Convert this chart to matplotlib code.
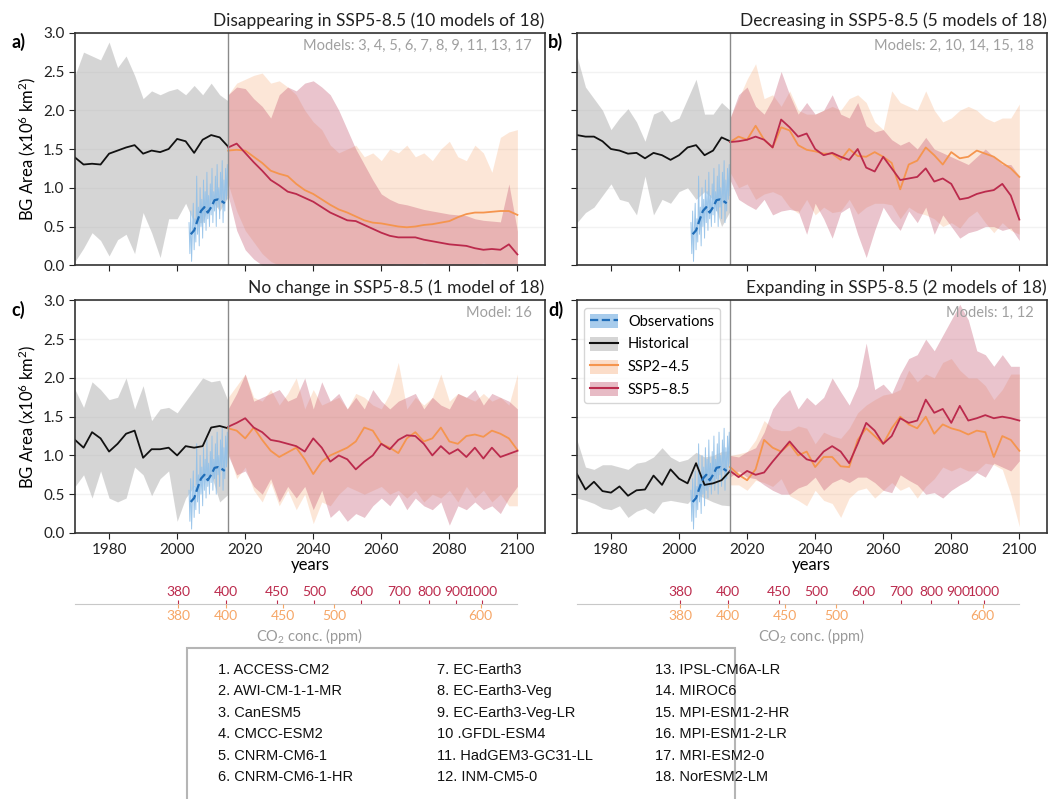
import numpy as np
import matplotlib
matplotlib.use('Agg')
import matplotlib.pyplot as plt
from matplotlib.lines import Line2D
from matplotlib.patches import Patch, Rectangle

plt.rcParams['font.family'] = ['Lato', 'DejaVu Sans']
plt.rcParams['mathtext.default'] = 'regular'

# --- data ---
hist_years = np.arange(1970, 2015.1, 2.5)
fut_years = np.arange(2015, 2100.1, 2.5)

obs_years = np.arange(2004, 2015)
obs_mean = [0.40, 0.45, 0.58, 0.70, 0.75, 0.68, 0.75, 0.84, 0.85, 0.83, 0.80]
obs_raw_years = np.arange(2003.5, 2015.01, 0.25)
obs_raw = [0.55, 0.15, 0.7, 0.05, 0.45, 0.8, 0.2, 0.6, 0.3, 1.15, 0.4, 0.75, 0.25, 1.0, 0.5, 0.85,
           0.35, 1.1, 0.55, 0.95, 0.45, 1.2, 0.6, 0.9, 0.5, 1.05, 0.65, 1.25, 0.55, 0.95, 0.7, 1.15,
           0.5, 1.3, 0.75, 1.0, 0.6, 1.2, 0.8, 1.35, 0.55, 1.1, 0.7, 1.25, 0.85, 1.3, 0.9]

# panel a - disappearing
a_hist_mean = [1.39, 1.30, 1.31, 1.30, 1.44, 1.48, 1.52, 1.55, 1.44, 1.48, 1.46, 1.50, 1.63, 1.60, 1.45, 1.62, 1.68, 1.65, 1.53]
a_hist_hi = [2.45, 2.75, 2.7, 2.65, 2.88, 2.55, 2.7, 2.45, 2.15, 2.25, 2.2, 2.25, 2.28, 2.2, 2.32, 2.2, 2.35, 2.2, 2.12]
a_hist_lo = [0.05, 0.22, 0.42, 0.32, 0.12, 0.33, 0.4, 0.15, 0.68, 0.42, 0.1, 0.6, 0.6, 0.8, 0.55, 0.55, 0.85, 0.7, 0.88]
a_245_mean = [1.48, 1.49, 1.48, 1.40, 1.32, 1.22, 1.18, 1.15, 1.05, 0.97, 0.92, 0.85, 0.78, 0.72, 0.68, 0.63, 0.58, 0.55,
              0.54, 0.52, 0.50, 0.49, 0.50, 0.52, 0.53, 0.55, 0.57, 0.62, 0.66, 0.68, 0.68, 0.69, 0.70, 0.70, 0.65]
a_245_hi = [2.2, 2.35, 2.4, 2.45, 2.48, 2.35, 2.38, 2.3, 2.2, 2.0, 1.85, 1.75, 1.55, 1.45, 1.5, 1.55, 1.4, 1.45,
            1.35, 1.5, 1.45, 1.55, 1.4, 1.45, 1.35, 1.5, 1.6, 1.4, 1.35, 1.55, 1.45, 1.2, 1.65, 1.72, 1.75]
a_245_lo = [1.05, 0.7, 0.45, 0.3, 0.15, 0.05, 0.0, 0.0, 0.0, 0.0, 0.0, 0.0, 0.0, 0.0, 0.0, 0.0, 0.0, 0.0,
            0.0, 0.0, 0.02, 0.0, 0.0, 0.03, 0.0, 0.0, 0.02, 0.0, 0.0, 0.0, 0.03, 0.0, 0.0, 0.0, 0.0]
a_585_mean = [1.52, 1.57, 1.45, 1.33, 1.22, 1.10, 1.03, 0.95, 0.92, 0.87, 0.82, 0.75, 0.68, 0.63, 0.58, 0.57, 0.52, 0.47,
              0.42, 0.38, 0.36, 0.36, 0.36, 0.33, 0.31, 0.29, 0.27, 0.26, 0.25, 0.22, 0.20, 0.21, 0.20, 0.27, 0.14]
a_585_hi = [2.2, 2.3, 2.28, 2.15, 2.05, 1.9, 2.2, 2.3, 2.25, 2.35, 2.38, 2.3, 2.2, 2.0, 1.75, 1.5, 1.3, 1.1,
            0.92, 0.85, 0.8, 0.78, 0.75, 0.72, 0.7, 0.68, 0.66, 0.65, 0.64, 0.6, 0.58, 0.57, 0.56, 1.05, 0.44]
a_585_lo = [0.9, 0.45, 0.2, 0.08, 0.0, 0.0, 0.0, 0.0, 0.0, 0.0, 0.0, 0.0, 0.0, 0.0, 0.0, 0.0, 0.0, 0.0,
            0.0, 0.0, 0.0, 0.0, 0.0, 0.0, 0.0, 0.0, 0.0, 0.0, 0.0, 0.0, 0.0, 0.0, 0.0, 0.0, 0.0]

# panel b - decreasing
b_hist_mean = [1.68, 1.66, 1.66, 1.6, 1.50, 1.48, 1.44, 1.45, 1.38, 1.45, 1.42, 1.36, 1.42, 1.52, 1.55, 1.42, 1.48, 1.65, 1.6]
b_hist_hi = [2.7, 2.3, 2.15, 2.0, 1.75, 1.9, 2.02, 1.85, 1.6, 1.95, 2.0, 1.85, 1.9, 2.15, 2.4, 1.95, 1.95, 2.1, 2.0]
b_hist_lo = [0.55, 0.68, 0.75, 0.9, 1.05, 0.85, 0.82, 0.65, 1.15, 0.65, 0.85, 0.8, 0.95, 1.0, 0.85, 0.95, 0.85, 0.5, 0.7]
b_245_mean = [1.59, 1.66, 1.62, 1.8, 1.62, 1.52, 1.78, 1.74, 1.55, 1.49, 1.47, 1.44, 1.44, 1.36, 1.5, 1.41, 1.4, 1.46,
              1.4, 1.32, 0.98, 1.3, 1.35, 1.52, 1.42, 1.3, 1.46, 1.38, 1.4, 1.48, 1.44, 1.4, 1.32, 1.25, 1.14]
b_245_hi = [1.9, 2.15, 2.4, 2.6, 2.15, 2.2, 2.05, 2.25, 2.0, 1.95, 1.95, 2.0, 2.05, 2.0, 2.15, 2.2, 2.1, 1.85,
            1.75, 2.25, 2.1, 2.05, 2.0, 2.25, 2.0, 1.85, 1.9, 2.0, 2.05, 2.0, 1.9, 1.85, 1.9, 1.9, 2.08]
b_245_lo = [1.2, 1.0, 1.05, 0.85, 0.92, 0.95, 0.9, 0.75, 0.67, 0.85, 0.65, 0.75, 0.68, 0.7, 0.85, 0.66, 0.75, 0.8,
            0.8, 0.78, 0.6, 0.75, 0.68, 0.65, 0.6, 0.5, 0.55, 0.48, 0.62, 0.7, 0.55, 0.42, 0.55, 0.45, 0.4]
b_585_mean = [1.59, 1.60, 1.62, 1.66, 1.62, 1.52, 1.88, 1.78, 1.66, 1.70, 1.50, 1.42, 1.45, 1.40, 1.36, 1.50, 1.26, 1.21,
              1.40, 1.25, 1.10, 1.12, 1.14, 1.25, 1.08, 1.12, 1.05, 0.85, 0.87, 0.92, 0.95, 0.97, 1.05, 0.90, 0.59]
b_585_hi = [1.9, 2.2, 2.3, 2.05, 1.95, 2.15, 2.5, 2.2, 1.95, 2.1, 1.95, 2.0, 2.2, 1.95, 1.9, 2.1, 1.8, 1.72,
            1.75, 1.62, 1.55, 1.6, 1.5, 1.65, 1.5, 1.45, 1.4, 1.35, 1.3, 1.4, 1.5, 1.4, 1.3, 1.3, 1.15]
b_585_lo = [1.1, 0.85, 0.78, 0.72, 0.85, 0.65, 0.7, 0.72, 0.7, 0.4, 0.8, 0.6, 0.35, 0.68, 0.75, 0.4, 0.1, 0.45,
            0.75, 0.58, 0.45, 0.7, 0.55, 0.75, 0.4, 0.65, 0.5, 0.35, 0.42, 0.45, 0.5, 0.5, 0.45, 0.48, 0.32]

# panel c - no change
c_hist_mean = [1.2, 1.1, 1.3, 1.22, 1.05, 1.15, 1.28, 1.32, 0.97, 1.08, 1.08, 1.1, 1.0, 1.12, 1.1, 1.12, 1.36, 1.38, 1.35]
c_hist_hi = [1.85, 1.62, 1.95, 1.85, 1.72, 1.75, 2.0, 1.6, 1.9, 1.45, 1.6, 1.62, 1.55, 1.7, 1.85, 2.0, 1.95, 1.97, 1.7]
c_hist_lo = [0.6, 0.75, 0.45, 0.8, 0.45, 0.4, 0.45, 0.85, 0.75, 0.48, 0.7, 0.8, 0.15, 0.45, 0.6, 0.72, 0.75, 0.4, 0.5]
c_245_mean = [1.35, 1.32, 1.22, 1.36, 1.2, 1.06, 0.98, 1.04, 1.1, 0.95, 0.76, 0.92, 1.0, 1.05, 1.1, 1.18, 1.36, 1.32,
              1.15, 1.1, 1.03, 1.22, 1.3, 1.18, 1.22, 1.36, 1.18, 1.15, 1.25, 1.27, 1.24, 1.32, 1.28, 1.22, 1.07]
c_245_hi = [1.75, 1.9, 2.05, 1.75, 1.7, 1.85, 1.65, 1.8, 2.0, 1.6, 1.85, 1.65, 1.7, 1.75, 1.6, 1.8, 1.75, 1.65,
            1.6, 1.8, 2.2, 1.6, 1.75, 1.65, 1.75, 2.05, 1.7, 1.8, 1.75, 1.7, 1.8, 1.7, 1.75, 1.65, 2.05]
c_245_lo = [1.05, 0.7, 0.85, 0.55, 0.4, 0.65, 0.35, 0.55, 0.3, 0.5, 0.12, 0.4, 0.35, 0.5, 0.6, 0.55, 0.5, 0.55,
            0.6, 0.5, 0.55, 0.45, 0.55, 0.4, 0.5, 0.45, 0.55, 0.4, 0.6, 0.45, 0.55, 0.4, 0.5, 0.35, 0.35]
c_585_mean = [1.37, 1.42, 1.48, 1.36, 1.3, 1.2, 1.18, 1.15, 1.12, 1.05, 1.22, 1.1, 0.92, 1.0, 0.95, 0.82, 0.92, 1.0,
              1.15, 1.08, 1.2, 1.26, 1.25, 1.15, 1.0, 1.12, 1.02, 1.08, 0.98, 1.1, 0.96, 1.1, 0.98, 1.02, 1.06]
c_585_hi = [1.6, 1.8, 2.05, 1.7, 1.75, 1.8, 1.85, 1.7, 1.75, 2.0, 1.6, 1.95, 1.7, 1.8, 1.6, 1.75, 1.6, 1.85,
            1.7, 1.6, 1.7, 1.75, 1.8, 1.6, 1.75, 1.65, 1.6, 1.8, 1.75, 1.85, 1.65, 1.8, 1.75, 1.7, 1.6]
c_585_lo = [1.0, 0.75, 0.8, 0.6, 0.5, 0.7, 0.4, 0.6, 0.45, 0.6, 0.3, 0.55, 0.2, 0.3, 0.15, 0.25, 0.2, 0.35,
            0.45, 0.35, 0.5, 0.3, 0.45, 0.35, 0.3, 0.4, 0.1, 0.35, 0.3, 0.4, 0.3, 0.35, 0.25, 0.45, 0.6]

# panel d - expanding
d_hist_mean = [0.76, 0.56, 0.66, 0.54, 0.52, 0.6, 0.48, 0.55, 0.56, 0.74, 0.62, 0.82, 0.7, 0.64, 0.9, 0.62, 0.64, 0.68, 0.8]
d_hist_hi = [1.2, 0.85, 0.82, 0.88, 0.88, 0.85, 0.82, 0.9, 0.92, 0.98, 1.1, 0.98, 0.92, 0.95, 1.04, 0.98, 1.0, 1.05, 1.06]
d_hist_lo = [0.45, 0.42, 0.38, 0.32, 0.3, 0.35, 0.2, 0.28, 0.32, 0.25, 0.4, 0.42, 0.4, 0.38, 0.5, 0.45, 0.4, 0.36, 0.35]
d_245_mean = [0.85, 0.75, 0.68, 0.82, 1.2, 1.1, 1.05, 1.15, 1.0, 1.05, 0.85, 0.98, 0.98, 0.86, 0.85, 1.2, 1.35, 1.25,
              1.15, 1.35, 1.5, 1.4, 1.35, 1.5, 1.28, 1.4, 1.35, 1.32, 1.27, 1.32, 1.3, 0.98, 1.25, 1.2, 1.06]
d_245_hi = [1.0, 1.02, 1.05, 1.2, 1.45, 1.35, 1.32, 1.32, 1.38, 1.35, 1.15, 1.3, 1.25, 1.22, 1.35, 1.55, 1.65, 1.72,
            1.78, 1.8, 1.85, 2.1, 1.95, 2.05, 2.0, 2.2, 2.25, 2.1, 2.0, 2.0, 1.9, 1.72, 1.85, 2.05, 2.05]
d_245_lo = [0.62, 0.62, 0.55, 0.68, 0.65, 0.6, 0.7, 0.48, 0.42, 0.35, 0.55, 0.42, 0.38, 0.2, 0.45, 0.55, 0.58, 0.45,
            0.55, 0.65, 0.55, 0.6, 0.45, 0.6, 0.7, 0.85, 0.8, 0.85, 0.8, 0.8, 0.9, 0.88, 0.82, 0.5, 0.08]
d_585_mean = [0.8, 0.72, 0.8, 0.75, 0.78, 0.92, 1.05, 1.18, 1.05, 0.95, 0.92, 1.05, 1.12, 1.05, 0.9, 1.15, 1.42, 1.32,
              1.15, 1.25, 1.48, 1.42, 1.45, 1.72, 1.55, 1.6, 1.42, 1.64, 1.45, 1.48, 1.52, 1.48, 1.5, 1.48, 1.45]
d_585_hi = [1.0, 0.98, 1.05, 1.1, 1.3, 1.6, 1.75, 1.85, 1.6, 1.75, 1.65, 1.75, 2.0, 1.82, 1.65, 1.9, 2.45, 1.85,
            1.92, 1.8, 2.05, 2.25, 2.3, 2.5, 2.35, 2.55, 2.75, 2.95, 2.75, 2.35, 2.3, 2.15, 2.3, 2.15, 2.15]
d_585_lo = [0.72, 0.8, 0.72, 0.7, 0.62, 0.55, 0.5, 0.5, 0.58, 0.62, 0.72, 0.55, 0.65, 0.7, 0.65, 0.72, 0.72, 0.65,
            0.55, 0.52, 0.75, 0.68, 0.62, 0.5, 0.52, 0.45, 0.55, 0.62, 0.68, 0.78, 0.72, 0.9, 0.85, 0.8, 0.93]

titles = ['Disappearing in SSP5-8.5 (10 models of 18)', 'Decreasing in SSP5-8.5 (5 models of 18)',
          'No change in SSP5-8.5 (1 model of 18)', 'Expanding in SSP5-8.5 (2 models of 18)']
model_notes = ['Models: 3, 4, 5, 6, 7, 8, 9, 11, 13, 17', 'Models: 2, 10, 14, 15, 18',
               'Model: 16', 'Models: 1, 12']
panel_tags = ['a)', 'b)', 'c)', 'd)']

# CO2 concentration reached in each scenario (year where it is reached)
co2_585_years = [2000.4, 2014.4, 2029.3, 2040.3, 2054.1, 2065.2, 2074.1, 2082.1, 2089.7]
co2_585_labels = ['380', '400', '450', '500', '600', '700', '800', '900', '1000']
co2_245_years = [2000.4, 2014.4, 2031.2, 2046.2, 2089.2]
co2_245_labels = ['380', '400', '450', '500', '600']

model_names = ['1. ACCESS-CM2', '2. AWI-CM-1-1-MR', '3. CanESM5', '4. CMCC-ESM2', '5. CNRM-CM6-1',
               '6. CNRM-CM6-1-HR', '7. EC-Earth3', '8. EC-Earth3-Veg', '9. EC-Earth3-Veg-LR',
               '10 .GFDL-ESM4', '11. HadGEM3-GC31-LL', '12. INM-CM5-0', '13. IPSL-CM6A-LR',
               '14. MIROC6', '15. MPI-ESM1-2-HR', '16. MPI-ESM1-2-LR', '17. MRI-ESM2-0', '18. NorESM2-LM']

panels = [
    (a_hist_mean, a_hist_lo, a_hist_hi, a_245_mean, a_245_lo, a_245_hi, a_585_mean, a_585_lo, a_585_hi),
    (b_hist_mean, b_hist_lo, b_hist_hi, b_245_mean, b_245_lo, b_245_hi, b_585_mean, b_585_lo, b_585_hi),
    (c_hist_mean, c_hist_lo, c_hist_hi, c_245_mean, c_245_lo, c_245_hi, c_585_mean, c_585_lo, c_585_hi),
    (d_hist_mean, d_hist_lo, d_hist_hi, d_245_mean, d_245_lo, d_245_hi, d_585_mean, d_585_lo, d_585_hi),
]

# colours
col_hist_band = '#adadad'
col_obs = '#1f6db8'
col_obs_raw = '#92c0e8'
col_245 = '#f5954e'
col_245_band = '#f5914c'
col_585 = '#bb2a4c'
col_585_band = '#c35670'
col_note = '#a0a0a0'

fig = plt.figure(figsize=(10.6, 7.99), dpi=100)

ax_w = 0.443
ax_h = 0.291
lefts = [0.0708, 0.5443]
bottoms = [0.668, 0.333]
axes = []
for i in range(4):
    row, col = divmod(i, 2)
    ax = fig.add_axes([lefts[col], bottoms[row], ax_w, ax_h])
    axes.append(ax)


def draw_panel(ax, data):
    h_m, h_lo, h_hi, m245, lo245, hi245, m585, lo585, hi585 = data
    ax.fill_between(hist_years, h_lo, h_hi, color=col_hist_band, alpha=0.5, lw=0)
    ax.fill_between(fut_years, lo245, hi245, color=col_245_band, alpha=0.22, lw=0)
    ax.fill_between(fut_years, lo585, hi585, color=col_585_band, alpha=0.35, lw=0)
    ax.plot(obs_raw_years, obs_raw, color=col_obs_raw, lw=0.7, alpha=0.9)
    ax.plot(hist_years, h_m, color='#111111', lw=1.3)
    ax.plot(fut_years, m245, color=col_245, lw=1.3)
    ax.plot(fut_years, m585, color=col_585, lw=1.3)
    ax.plot(obs_years, obs_mean, color=col_obs, lw=1.6, ls='--')
    ax.axvline(2015, color='#8a8a8a', lw=1)
    ax.set_xlim(1970, 2108)
    ax.set_ylim(0, 3)
    ax.set_yticks(np.arange(0, 3.01, 0.5))
    ax.set_xticks(np.arange(1980, 2101, 20))
    ax.yaxis.grid(True, color='#f2f2f2', lw=1)
    ax.set_axisbelow(True)
    for s in ax.spines.values():
        s.set_color('#333333')
        s.set_linewidth(1.2)
    ax.tick_params(labelsize=11, colors='#222222', length=4)


for i, ax in enumerate(axes):
    draw_panel(ax, panels[i])
    ax.set_title(titles[i], loc='right', fontsize=12.5, pad=5, color='#222222')
    ax.text(0.972, 0.945, model_notes[i], transform=ax.transAxes, ha='right', va='center',
            fontsize=10.5, color=col_note)
    if i % 2 == 0:
        ax.set_ylabel('BG Area (x10$^6$ km$^2$)', fontsize=12, labelpad=4)
    else:
        ax.set_yticklabels([])
    if i < 2:
        ax.set_xticklabels([])
    else:
        ax.set_xlabel('years', fontsize=12, labelpad=0)

for i, tag in enumerate(panel_tags):
    row, col = divmod(i, 2)
    x = [0.011, 0.517][col]
    y = [0.947, 0.612][row]
    fig.text(x, y, tag, fontsize=13, fontweight='bold', ha='left', va='center')

# legend in panel d
handles = [
    (Patch(facecolor=col_obs_raw, alpha=0.8), Line2D([], [], color=col_obs, ls='--', lw=1.6)),
    (Patch(facecolor=col_hist_band, alpha=0.5), Line2D([], [], color='#111111', lw=1.5)),
    (Patch(facecolor=col_245_band, alpha=0.3), Line2D([], [], color=col_245, lw=1.5)),
    (Patch(facecolor=col_585_band, alpha=0.4), Line2D([], [], color=col_585, lw=1.5)),
]
axes[3].legend(handles, ['Observations', 'Historical', 'SSP2–4.5', 'SSP5–8.5'], loc='upper left',
               fontsize=10.5, frameon=True, edgecolor='#cccccc', fancybox=True, borderaxespad=0.5,
               handlelength=1.9, handleheight=1.1, handletextpad=0.7, labelspacing=0.55)

# CO2 concentration axes under panels c and d
for col in range(2):
    axc = fig.add_axes([lefts[col], 0.244, ax_w, 0.0001])
    axc2 = axc.twiny()

    axc.patch.set_visible(False)
    axc.set_xlim(1970, 2108)
    axc.set_yticks([])
    for side in ['left', 'right', 'bottom']:
        axc.spines[side].set_visible(False)
    axc.spines['top'].set_color('#c8c8c8')
    axc.spines['top'].set_bounds(1970, 2100)
    axc.xaxis.set_ticks_position('top')
    axc.xaxis.set_label_position('top')
    axc.set_xticks(co2_585_years)
    axc.set_xticklabels(co2_585_labels)
    axc.tick_params(axis='x', colors=col_585, labelsize=10, length=3, pad=1,
                    top=True, labeltop=True, bottom=False, labelbottom=False)

    axc2.patch.set_visible(False)
    for side in axc2.spines:
        axc2.spines[side].set_visible(False)
    axc2.set_xlim(1970, 2108)
    axc2.xaxis.set_ticks_position('bottom')
    axc2.xaxis.set_label_position('bottom')
    axc2.set_xticks(co2_245_years)
    axc2.set_xticklabels(co2_245_labels)
    axc2.tick_params(axis='x', colors='#f6a666', labelsize=10, length=3, pad=1,
                     top=False, labeltop=False, bottom=True, labelbottom=True)
    axc2.set_xlabel('CO$_2$ conc. (ppm)', fontsize=10.5, color='#9a9a9a', labelpad=3)

# model list box
fig.patches.append(Rectangle((0.1764, -0.02), 0.517, 0.209, transform=fig.transFigure,
                             fill=False, edgecolor='#b5b5b5', lw=1.5))
col_x = [0.2057, 0.4123, 0.618]
for k, name in enumerate(model_names):
    c, r = divmod(k, 6)
    fig.text(col_x[c], 0.1614 - r * 0.0268, name, fontsize=10.5, family='Liberation Sans',
             ha='left', va='center', color='#111111')

fig.savefig('out.png', dpi=100)
